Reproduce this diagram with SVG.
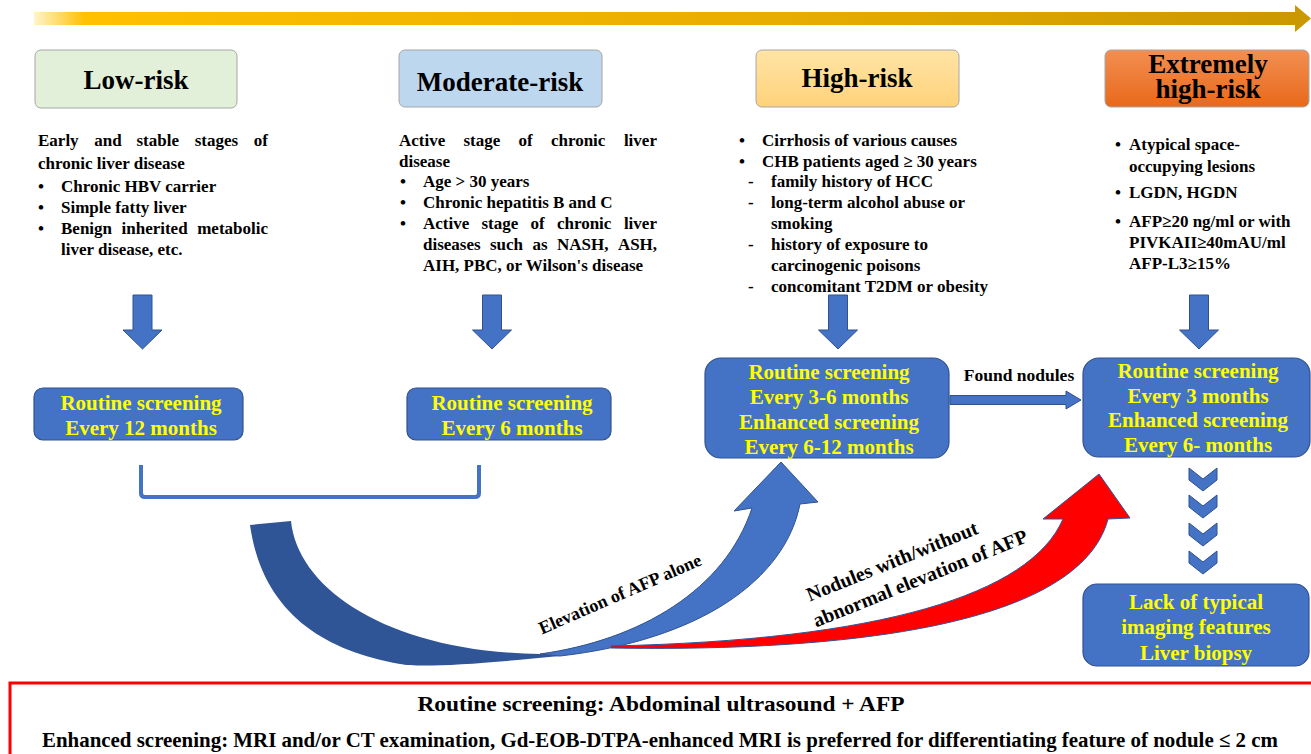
<svg xmlns="http://www.w3.org/2000/svg" width="1311" height="754" viewBox="0 0 1311 754">
<defs>
<linearGradient id="gTop" x1="0" y1="0" x2="1" y2="0">
<stop offset="0" stop-color="#fff4cc"/>
<stop offset="0.04" stop-color="#ffc000"/>
<stop offset="0.6" stop-color="#e6ac00"/>
<stop offset="1" stop-color="#c99700"/>
</linearGradient>
<linearGradient id="gHigh" x1="0" y1="0" x2="0" y2="1">
<stop offset="0" stop-color="#ffe4a6"/>
<stop offset="1" stop-color="#ffd27a"/>
</linearGradient>
<linearGradient id="gExt" x1="0" y1="0" x2="0" y2="1">
<stop offset="0" stop-color="#f38f52"/>
<stop offset="1" stop-color="#e8691a"/>
</linearGradient>
<style>
.hdr{font-family:"Liberation Serif",serif;font-weight:bold;font-size:27px;text-anchor:middle;fill:#000}
.bd{font-family:"Liberation Serif",serif;font-weight:bold;font-size:17px;fill:#000}
.yl{font-family:"Liberation Serif",serif;font-weight:bold;font-size:21px;fill:#ffff00;text-anchor:middle}
.lbl{font-family:"Liberation Serif",serif;font-weight:bold;fill:#000;text-anchor:middle}
.bx{fill:#4472c4;stroke:#2f528f;stroke-width:1.2}
.ar{fill:#4472c4;stroke:#2f528f;stroke-width:1}
.hb{stroke:#a6a6a6;stroke-width:1}
</style>
</defs>
<rect width="1311" height="754" fill="#ffffff"/>

<g id="timeline">
<path d="M34,12 L1295,12 L1295,5 L1311,18.5 L1295,32 L1295,25 L34,25 Z" fill="url(#gTop)"/>
</g>

<g id="hdr-low"><rect x="35" y="50" width="202" height="58" rx="6" fill="#e2efd9" class="hb"/><text class="hdr" x="136" y="89">Low-risk</text></g>
<g id="hdr-mod"><rect x="399" y="50" width="203" height="57" rx="6" fill="#bdd7ee" class="hb"/><text class="hdr" x="500" y="91">Moderate-risk</text></g>
<g id="hdr-high"><rect x="756" y="50" width="203" height="57" rx="6" fill="url(#gHigh)" class="hb"/><text class="hdr" x="857" y="87">High-risk</text></g>
<g id="hdr-ext"><rect x="1105" y="50" width="204" height="57" rx="6" fill="url(#gExt)" class="hb"/><text class="hdr" x="1208" y="73" font-size="26">Extremely</text><text class="hdr" x="1208" y="98" font-size="26">high-risk</text></g>

<g id="txt-low" class="bd">
<text y="146"><tspan x="38">Early</tspan><tspan x="94.3">and</tspan><tspan x="136.5">stable</tspan><tspan x="194.7">stages</tspan><tspan x="253.8">of</tspan></text>
<text x="38" y="169">chronic liver disease</text>
<text x="38" y="192">•</text><text x="61" y="192">Chronic HBV carrier</text>
<text x="38" y="213">•</text><text x="61" y="213">Simple fatty liver</text>
<text x="38" y="234">•</text><text y="234"><tspan x="61">Benign</tspan><tspan x="121.5">inherited</tspan><tspan x="197.2">metabolic</tspan></text>
<text x="61" y="255">liver disease, etc.</text>
</g>

<g id="txt-mod" class="bd">
<text y="146"><tspan x="399">Active</tspan><tspan x="463.5">stage</tspan><tspan x="518.5">of</tspan><tspan x="550.9">chronic</tspan><tspan x="623.9">liver</tspan></text>
<text x="399" y="167">disease</text>
<text x="400" y="187">•</text><text x="423" y="187">Age &gt; 30 years</text>
<text x="400" y="208">•</text><text x="423" y="208">Chronic hepatitis B and C</text>
<text x="400" y="229">•</text><text y="229"><tspan x="423">Active</tspan><tspan x="481.5">stage</tspan><tspan x="530.5">of</tspan><tspan x="556.9">chronic</tspan><tspan x="623.9">liver</tspan></text>
<text y="250"><tspan x="423">diseases</tspan><tspan x="490">such</tspan><tspan x="532.5">as</tspan><tspan x="557">NASH,</tspan><tspan x="617.9">ASH,</tspan></text>
<text x="423" y="271">AIH, PBC, or Wilson's disease</text>
</g>

<g id="txt-high" class="bd">
<text x="739" y="146">•</text><text x="762" y="146">Cirrhosis of various causes</text>
<text x="739" y="167">•</text><text x="762" y="167">CHB patients aged ≥ 30 years</text>
<text x="748" y="187">-</text><text x="771" y="187">family history of HCC</text>
<text x="748" y="208">-</text><text x="771" y="208">long-term alcohol abuse or</text>
<text x="771" y="229">smoking</text>
<text x="748" y="250">-</text><text x="771" y="250">history of exposure to</text>
<text x="771" y="271">carcinogenic poisons</text>
<text x="748" y="292">-</text><text x="771" y="292">concomitant T2DM or obesity</text>
</g>

<g id="txt-ext" class="bd">
<text x="1115" y="150">•</text><text x="1129" y="150">Atypical space-</text>
<text x="1129" y="172">occupying lesions</text>
<text x="1115" y="198">•</text><text x="1129" y="198">LGDN, HGDN</text>
<text x="1115" y="227">•</text><text x="1129" y="227">AFP≥20 ng/ml or with</text>
<text x="1129" y="248">PIVKAII≥40mAU/ml</text>
<text x="1129" y="269">AFP-L3≥15%</text>
</g>

<g id="box-low"><rect class="bx" x="34" y="388" width="209" height="52" rx="9"/><text class="yl" x="141" y="410">Routine screening</text><text class="yl" x="141" y="435">Every 12 months</text></g>
<g id="box-mod"><rect class="bx" x="407" y="388" width="204" height="52" rx="9"/><text class="yl" x="512" y="410">Routine screening</text><text class="yl" x="512" y="435">Every 6 months</text></g>
<g id="box-high"><rect class="bx" x="705" y="358" width="244" height="100" rx="16"/><text class="yl" x="829" y="379">Routine screening</text><text class="yl" x="829" y="404">Every 3-6 months</text><text class="yl" x="829" y="429">Enhanced screening</text><text class="yl" x="829" y="454">Every 6-12 months</text></g>
<g id="box-ext"><rect class="bx" x="1083" y="358" width="227" height="99" rx="16"/><text class="yl" x="1198" y="378">Routine screening</text><text class="yl" x="1198" y="403">Every 3 months</text><text class="yl" x="1198" y="427">Enhanced screening</text><text class="yl" x="1198" y="452">Every 6- months</text></g>
<g id="box-biopsy"><rect class="bx" x="1083" y="584" width="226" height="82" rx="14"/><text class="yl" x="1196" y="609">Lack of typical</text><text class="yl" x="1196" y="634">imaging features</text><text class="yl" x="1196" y="660">Liver biopsy</text></g>

<g id="connectors">
<path class="ar" d="M133,295 H152 V330 H162 L142.5,349 L123,330 H133 Z"/>
<path class="ar" d="M482.5,295 H501.5 V330 H511.5 L492,349 L472.5,330 H482.5 Z"/>
<path class="ar" d="M828.5,295 H847.5 V330 H857.5 L838,349 L818.5,330 H828.5 Z"/>
<path class="ar" d="M1189.5,295 H1208.5 V330 H1218.5 L1199,349 L1179.5,330 H1189.5 Z"/>
<path class="ar" d="M950,395.5 H1066 V391 L1081,400 L1066,409 V404.5 H950 Z"/>
<path d="M141,465 V493 Q141,497 145,497 H475 Q479,497 479,493 V465" fill="none" stroke="#4472c4" stroke-width="4"/>
<g class="ar">
<path d="M1189,468 L1203,479 L1217,468 L1217,480 L1203,491 L1189,480 Z"/>
<path d="M1189,495 L1203,506 L1217,495 L1217,507 L1203,518 L1189,507 Z"/>
<path d="M1189,523 L1203,534 L1217,523 L1217,535 L1203,546 L1189,535 Z"/>
<path d="M1189,551 L1203,562 L1217,551 L1217,563 L1203,574 L1189,563 Z"/>
</g>
<path d="M250,525 L291,521 C298,590 390,652 540,654 L560,656 C480,664 420,668 400,664 C320,650 262,610 250,525 Z" fill="#2f5597"/>
<path d="M540,654 C640,640 725,590 752,508 L734,511 L781,462 L818,502 L800,504 C785,580 700,640 560,656 Z" fill="#4472c4" stroke="#2f528f" stroke-width="1"/>
<path d="M611,646 C880,640 1030,595 1063,519 L1043,519 L1099,474 L1130,518 L1108,519 C1080,625 850,652 611,648 Z" fill="#ff0000" stroke="#2f5597" stroke-width="1"/>
<text class="lbl" font-size="17.5" x="1019" y="381">Found nodules</text>
<text class="lbl" font-size="18" x="620" y="600" transform="rotate(-23.5 620 594)">Elevation of AFP alone</text>
<text class="lbl" font-size="20" x="892" y="568" transform="rotate(-22 892 561)">Nodules with/without</text>
<text class="lbl" font-size="20" x="920" y="585" transform="rotate(-22 920 578)">abnormal elevation of AFP</text>
</g>

<g id="legend">
<rect x="10" y="683" width="1310" height="90" fill="#ffffff" stroke="#ff0000" stroke-width="3"/>
<text class="lbl" font-size="22" x="661" y="711" textLength="487" lengthAdjust="spacingAndGlyphs">Routine screening: Abdominal ultrasound + AFP</text>
<text font-family="Liberation Serif, serif" font-weight="bold" font-size="21" x="42" y="747" textLength="1236" lengthAdjust="spacingAndGlyphs">Enhanced screening:  MRI and/or CT examination, Gd-EOB-DTPA-enhanced MRI is preferred for differentiating feature of nodule ≤ 2 cm</text>
</g>
</svg>
